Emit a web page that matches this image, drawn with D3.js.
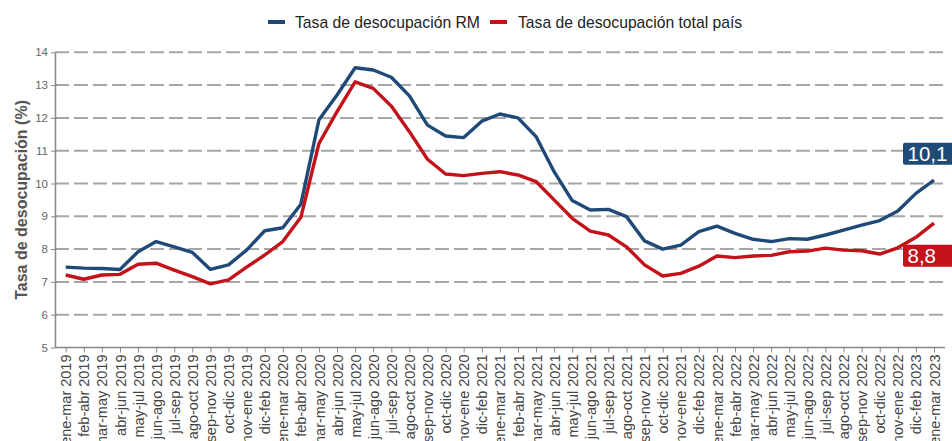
<!DOCTYPE html>
<html>
<head>
<meta charset="utf-8">
<script src="https://cdn.jsdelivr.net/npm/d3@7"></script>
<style>
  body { margin: 0; background: #fff; }
  svg { display: block; font-family: "Liberation Sans", Arial, sans-serif; }
</style>
</head>
<body>
<div id="chart"></div>
<script>
// Data
const periods = [
  'ene-mar 2019','feb-abr 2019','mar-may 2019','abr-jun 2019','may-jul 2019','jun-ago 2019',
  'jul-sep 2019','ago-oct 2019','sep-nov 2019','oct-dic 2019','nov-ene 2019','dic-feb 2020',
  'ene-mar 2020','feb-abr 2020','mar-may 2020','abr-jun 2020','may-jul 2020','jun-ago 2020',
  'jul-sep 2020','ago-oct 2020','sep-nov 2020','oct-dic 2020','nov-ene 2020','dic-feb 2021',
  'ene-mar 2021','feb-abr 2021','mar-may 2021','abr-jun 2021','may-jul 2021','jun-ago 2021',
  'jul-sep 2021','ago-oct 2021','sep-nov 2021','oct-dic 2021','nov-ene 2021','dic-feb 2022',
  'ene-mar 2022','feb-abr 2022','mar-may 2022','abr-jun 2022','may-jul 2022','jun-ago 2022',
  'jul-sep 2022','ago-oct 2022','sep-nov 2022','oct-dic 2022','nov-ene 2022','dic-feb 2023',
  'ene-mar 2023'
];

const rm = [
  7.45, 7.42, 7.41, 7.38, 7.92, 8.23, 8.07, 7.90, 7.38, 7.52, 7.97, 8.56,
  8.65, 9.37, 11.94, 12.70, 13.53, 13.46, 13.24, 12.67, 11.78, 11.45, 11.40, 11.90,
  12.12, 12.00, 11.43, 10.36, 9.48, 9.19, 9.21, 8.99, 8.25, 8.00, 8.12, 8.53,
  8.70, 8.48, 8.30, 8.23, 8.32, 8.30, 8.43, 8.58, 8.73, 8.87, 9.16, 9.70,
  10.10
];

const pais = [
  7.21, 7.08, 7.21, 7.23, 7.54, 7.57, 7.36, 7.16, 6.94, 7.06, 7.45, 7.82,
  8.23, 8.97, 11.22, 12.19, 13.10, 12.90, 12.36, 11.58, 10.74, 10.29, 10.24, 10.31,
  10.36, 10.26, 10.06, 9.50, 8.94, 8.55, 8.43, 8.07, 7.52, 7.18, 7.26, 7.48,
  7.79, 7.74, 7.79, 7.81, 7.92, 7.94, 8.03, 7.97, 7.95, 7.85, 8.04, 8.36,
  8.79
];

const yTicks = [5, 6, 7, 8, 9, 10, 11, 12, 13, 14];
const seriesNames = ['Tasa de desocupación RM', 'Tasa de desocupación total país'];
const lastLabels = ['10,1', '8,8'];

const w = 952, h = 441;
const blue = '#1f4a78', red = '#c3121a';

const svg = d3.select('#chart').append('svg')
  .attr('width', w).attr('height', h);

const x = d3.scalePoint().domain(periods).range([65.7, 934]);
const y = d3.scaleLinear().domain([5, 14]).range([347.5, 52.3]);

const left = 55, right = 945;

// dashed grid
svg.append('g')
  .selectAll('line')
  .data(yTicks.filter(d => d > 5))
  .enter().append('line')
  .attr('x1', left).attr('x2', right)
  .attr('y1', d => y(d)).attr('y2', d => y(d))
  .attr('stroke', '#a6a6a6')
  .attr('stroke-width', 2)
  .attr('stroke-dasharray', '14,5');

// y axis
const yAxis = d3.axisLeft(y).tickValues(yTicks).tickSize(4).tickSizeOuter(0).tickPadding(3);
const gy = svg.append('g').attr('transform', `translate(${left},0)`).call(yAxis);
gy.select('.domain').attr('stroke', '#888').attr('stroke-width', 1.5);
gy.selectAll('.tick line').attr('stroke', '#888');
gy.selectAll('.tick text').attr('fill', '#666').style('font-size', '11.5px')
  .style('font-family', '"Liberation Sans", Arial, sans-serif');

// x axis
const xAxis = d3.axisBottom(x).tickSize(5).tickSizeOuter(0);
const gx = svg.append('g').attr('transform', `translate(0,${y(5)})`).call(xAxis);
gx.select('.domain').remove();
gx.append('line').attr('x1', left).attr('x2', right).attr('y1', 0).attr('y2', 0)
  .attr('stroke', '#888').attr('stroke-width', 1.5);
gx.selectAll('.tick line').attr('stroke', '#888');
gx.selectAll('.tick text')
  .attr('fill', '#444')
  .style('font-size', '14.5px')
  .style('font-family', '"Liberation Sans", Arial, sans-serif')
  .attr('text-anchor', 'end')
  .attr('transform', 'rotate(-90)')
  .attr('x', -7).attr('y', 0).attr('dy', '0.35em');

// y title
svg.append('text')
  .attr('transform', `translate(27,${(y(5) + y(14)) / 2}) rotate(-90)`)
  .attr('text-anchor', 'middle')
  .attr('fill', '#555')
  .style('font-size', '16px')
  .style('font-weight', 'bold')
  .text('Tasa de desocupación (%)');

// lines
const line = d3.line().x((d, i) => x(periods[i])).y(d => y(d));
[[rm, blue], [pais, red]].forEach(([vals, col]) => {
  svg.append('path')
    .datum(vals)
    .attr('d', line)
    .attr('fill', 'none')
    .attr('stroke', col)
    .attr('stroke-width', 3.4)
    .attr('stroke-linejoin', 'round');
});

// legend
const legend = [[seriesNames[0], blue, 268, 295], [seriesNames[1], red, 490, 518]];
legend.forEach(([name, col, lx, tx]) => {
  svg.append('line').attr('x1', lx).attr('x2', lx + 17).attr('y1', 22).attr('y2', 22)
    .attr('stroke', col).attr('stroke-width', 4);
  svg.append('text').attr('x', tx).attr('y', 27.5).attr('fill', '#222')
    .style('font-size', '15.7px').text(name);
});

// last value labels
const lastX = x(periods[periods.length - 1]);
const boxes = [
  [lastLabels[0], blue, y(rm[rm.length - 1]) - 37.5],
  [lastLabels[1], red, y(pais[pais.length - 1]) + 21.5]
];
boxes.forEach(([txt, col, top]) => {
  svg.append('rect').attr('x', lastX - 31).attr('y', top)
    .attr('width', 60).attr('height', 22).attr('rx', 2)
    .attr('fill', col);
  svg.append('text').attr('x', lastX - 26.5).attr('y', top + 18)
    .attr('fill', '#fff').style('font-size', '20.5px').text(txt);
});
</script>
</body>
</html>
